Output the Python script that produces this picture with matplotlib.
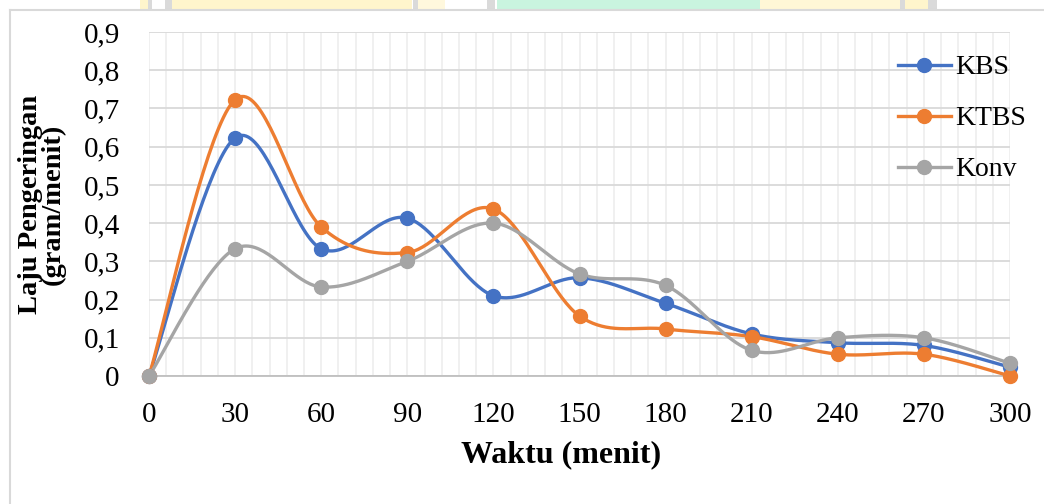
import numpy as np
import matplotlib
matplotlib.use('Agg')
import matplotlib.pyplot as plt
from matplotlib.ticker import MultipleLocator, FuncFormatter
from matplotlib.patches import Rectangle
from matplotlib.lines import Line2D

# ---- data ----
waktu = [0, 30, 60, 90, 120, 150, 180, 210, 240, 270, 300]
kbs = [0, 0.623, 0.333, 0.413, 0.210, 0.257, 0.190, 0.110, 0.087, 0.080, 0.023]
ktbs = [0, 0.723, 0.390, 0.323, 0.437, 0.157, 0.123, 0.103, 0.057, 0.057, 0.000]
konv = [0, 0.333, 0.233, 0.300, 0.400, 0.267, 0.237, 0.067, 0.100, 0.100, 0.033]
series_names = ['KBS', 'KTBS', 'Konv']
colors = ['#4472C4', '#ED7D31', '#A5A5A5']
y_ticks = [0, 0.1, 0.2, 0.3, 0.4, 0.5, 0.6, 0.7, 0.8, 0.9]

W, H = 1044, 504
fig = plt.figure(figsize=(W / 100, H / 100), dpi=100)
plt.rcParams['font.family'] = ['Liberation Serif', 'DejaVu Serif']

L, R, B, T = 149, 1010, 376, 32
ax = fig.add_axes([L / W, 1 - B / H, (R - L) / W, (B - T) / H])

# scale factors (pixels per data unit) for Excel-like smoothing in screen space
sx = (R - L) / 300.0
sy = (B - T) / 0.9


def excel_smooth(x, y, n=40):
    px = np.asarray(x, float) * sx
    py = np.asarray(y, float) * sy
    P = np.column_stack([px, py])
    m = len(P)
    out = []
    for i in range(m - 1):
        p0 = P[i]
        p3 = P[i + 1]
        pm = P[i - 1] if i > 0 else P[i]
        pp = P[i + 2] if i + 2 < m else P[i + 1]
        c1 = p0 + (p3 - pm) / 6.0
        c2 = p3 - (pp - p0) / 6.0
        t = np.linspace(0, 1, n)[:, None]
        seg = ((1 - t) ** 3) * p0 + 3 * ((1 - t) ** 2) * t * c1 + 3 * (1 - t) * t ** 2 * c2 + t ** 3 * p3
        if i > 0:
            seg = seg[1:]
        out.append(seg)
    out = np.vstack(out)
    return out[:, 0] / sx, out[:, 1] / sy


for name, vals, c in zip(series_names, [kbs, ktbs, konv], colors):
    xs, ys = excel_smooth(waktu, vals)
    ax.plot(xs, ys, color=c, lw=2.4, solid_capstyle='round', clip_on=False, zorder=3)
    ax.plot(waktu, vals, 'o', color=c, ms=10, clip_on=False, zorder=4)

ax.set_xlim(0, 300)
ax.set_ylim(0, 0.9)
ax.set_xticks(waktu)
ax.set_yticks(y_ticks)
ax.xaxis.set_minor_locator(MultipleLocator(6))
ax.yaxis.set_major_formatter(FuncFormatter(lambda v, p: '0' if abs(v) < 1e-9 else ('%.1f' % v).replace('.', ',')))

ax.grid(True, which='major', axis='y', color='#D9D9D9', lw=1.3, zorder=0)
ax.grid(True, which='both', axis='x', color='#EFEFEF', lw=1.3, zorder=0)
ax.set_axisbelow(True)
for s in ['top', 'right', 'left']:
    ax.spines[s].set_visible(False)
ax.spines['bottom'].set_color('#BFBFBF')
ax.spines['bottom'].set_linewidth(1.3)
ax.tick_params(which='both', length=0)
ax.tick_params(axis='x', labelsize=21, pad=19)
ax.tick_params(axis='y', labelsize=21, pad=21)

fig.text(561 / W, 1 - 455 / H, 'Waktu (menit)', ha='center', va='center',
         fontsize=23, fontweight='bold')
fig.text(42 / W, 1 - 204 / H, 'Laju Pengeringan\n(gram/menit)', ha='center', va='center',
         rotation=90, fontsize=20.5, fontweight='bold', linespacing=0.9)

handles = [Line2D([], [], color=c, lw=2.4, marker='o', ms=10) for c in colors]
leg = ax.legend(handles, series_names, loc='upper left', bbox_to_anchor=(898 / W, 1 - 55 / H),
                bbox_transform=fig.transFigure, frameon=False, fontsize=20,
                handlelength=1.9, handletextpad=0.15, labelspacing=0.92, borderaxespad=0,
                borderpad=0)

# chart outer border (light gray)
fig.add_artist(Line2D([10 / W, 10 / W], [1 - 10 / H, 0], transform=fig.transFigure, color='#D9D9D9', lw=1.5))
fig.add_artist(Line2D([10 / W, 1], [1 - 10 / H, 1 - 10 / H], transform=fig.transFigure, color='#D9D9D9', lw=1.5))

# faint watermark fragments above the chart
wm = [(140, 148, '#FFF5CC'), (148, 152, '#DADADA'), (165, 172, '#DADADA'), (172, 412, '#FFF5CC'),
      (413, 418, '#DADADA'), (418, 445, '#FFF8DD'), (487, 495, '#DADADA'), (497, 760, '#C9F4DF'),
      (760, 900, '#FFF7D6'), (900, 905, '#DADADA'), (905, 928, '#FFF5CC'), (928, 937, '#DADADA')]
for x0, x1, c in wm:
    fig.add_artist(Rectangle((x0 / W, 1 - 9 / H), (x1 - x0) / W, 9 / H, transform=fig.transFigure,
                             facecolor=c, edgecolor='none'))

fig.savefig('out.png', dpi=100)
